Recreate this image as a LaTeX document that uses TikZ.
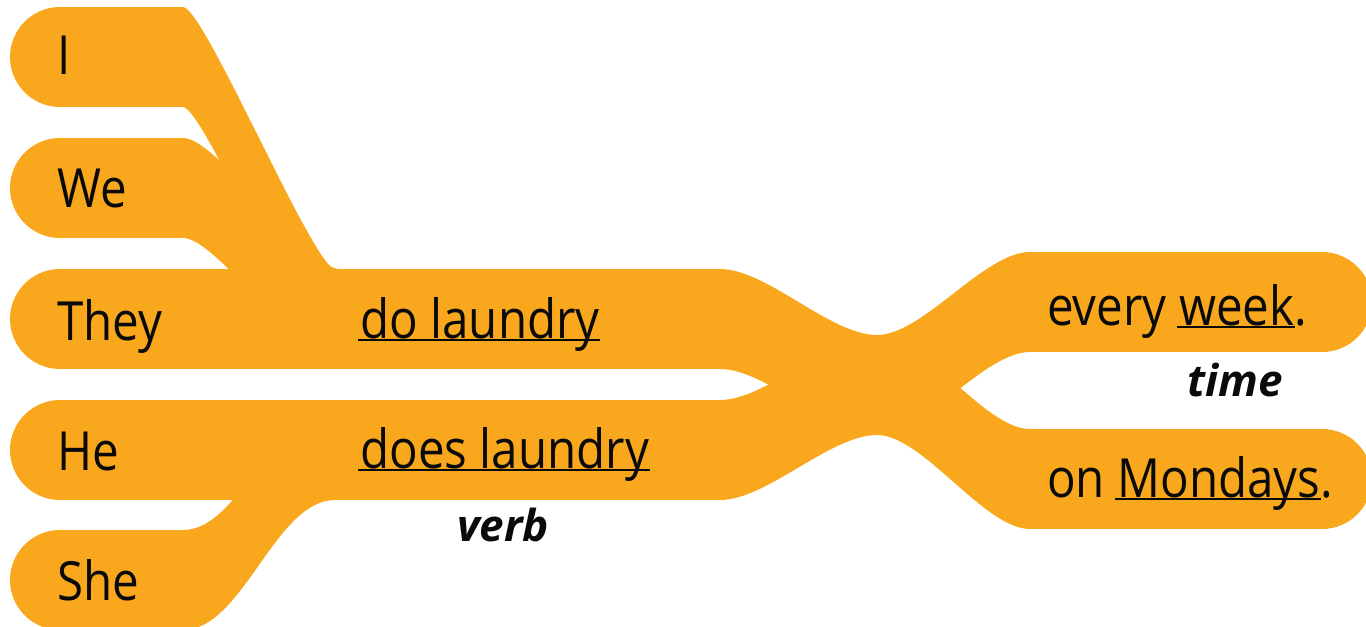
\documentclass[tikz,border=0pt]{standalone}
\usepackage{fontspec}
\setmainfont{Open Sans}[FakeStretch=0.88]
\newfontfamily\tagfont{Open Sans}
\usetikzlibrary{positioning}
\definecolor{myorange}{RGB}{249,168,30}
\definecolor{mydark}{RGB}{10,10,10}
% underlined word, rule just under the baseline
\newcommand{\uword}[1]{\setbox0\hbox{#1}\rlap{\kern-1.5pt\rule[-2.6pt]{\dimexpr\wd0+2pt\relax}{1.7pt}}\box0}
\tikzset{
  band/.style={fill=myorange},
  word/.style={anchor=base west, inner sep=0pt, text=mydark,
    font=\fontsize{40.5}{48}\selectfont},
  tag/.style={anchor=base, inner sep=0pt, text=mydark,
    font=\tagfont\bfseries\itshape\fontsize{33}{40}\selectfont}
}
\begin{document}
\begin{tikzpicture}[x=0.75pt, y=-0.75pt]
  \useasboundingbox (0,0) rectangle (1366,627);
  \clip (0,0) rectangle (1366,627);

  % left ends of the subject bands
  \foreach \yc in {57,188,319,450,580}
    \fill[band] (60,\yc) circle (50);
  \fill[band] (60,7) rectangle (183,107);
  \fill[band] (60,138) rectangle (183,238);
  \fill[band] (60,530) rectangle (183,630);
  \fill[band] (60,269) rectangle (720,369);
  \fill[band] (60,400) rectangle (720,500);

  % ribbons joining I, We and She to the main bands
  \fill[band] (183,7) .. controls (204,7) and (314,269) .. (335,269)
    -- (335,369) .. controls (314,369) and (204,107) .. (183,107) -- cycle;
  \fill[band] (183,138) .. controls (218,138) and (305,269) .. (340,269)
    -- (340,369) .. controls (305,369) and (218,238) .. (183,238) -- cycle;
  \fill[band] (183,530) .. controls (243,530) and (275,400) .. (335,400)
    -- (335,500) .. controls (275,500) and (243,630) .. (183,630) -- cycle;

  % crossing in the middle
  \fill[band] (720,269) .. controls (767,269) and (830,335) .. (877,335)
    -- (877,435) .. controls (830,435) and (767,369) .. (720,369) -- cycle;
  \fill[band] (720,400) .. controls (767,400) and (830,335) .. (877,335)
    -- (877,435) .. controls (830,435) and (767,500) .. (720,500) -- cycle;
  \fill[band] (877,335) .. controls (923,335) and (984,252) .. (1030,252)
    -- (1030,352) .. controls (984,352) and (923,435) .. (877,435) -- cycle;
  \fill[band] (877,335) .. controls (923,335) and (984,429) .. (1030,429)
    -- (1030,529) .. controls (984,529) and (923,435) .. (877,435) -- cycle;

  % time bands on the right
  \fill[band] (1030,252) rectangle (1322,352);
  \fill[band] (1030,429) rectangle (1322,529);
  \fill[band] (1322,302) circle (50);
  \fill[band] (1322,479) circle (50);

  % words
  \node[word] (subjI) at (57,75) {I};
  \node[word] (subjWe) at (57,208) {We};
  \node[word] (subjThey) at (57,340) {They};
  \node[word] (subjHe) at (57,470) {He};
  \node[word] (subjShe) at (57,600) {She};
  \node[word] (verbDo) at (360,338) {\uword{do laundry}};
  \node[word] (verbDoes) at (360,468) {\uword{does laundry}};
  \node[word] (timeWeek) at (1047,325) {every \uword{week}.};
  \node[word] (timeMon) at (1047,497) {on \uword{Mondays}.};
  \node[tag] (verbTag) at (503,541) {verb};
  \node[tag] (timeTag) at (1235,396) {time};
\end{tikzpicture}
\end{document}
